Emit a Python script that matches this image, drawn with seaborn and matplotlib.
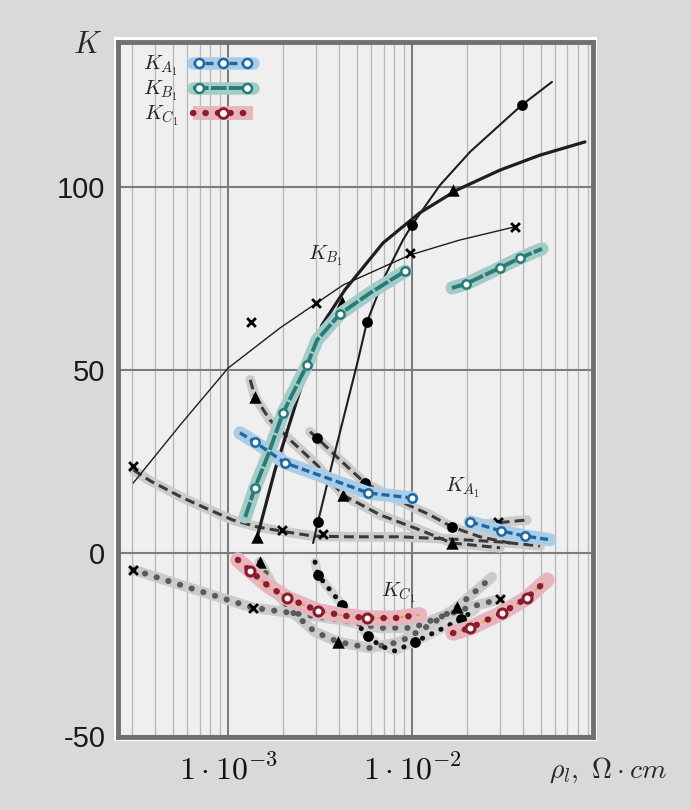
import numpy as np
import pandas as pd
import matplotlib
matplotlib.use("Agg")
import matplotlib.pyplot as plt
import seaborn as sns
from matplotlib.lines import Line2D
from matplotlib.legend_handler import HandlerLine2D, HandlerTuple
from matplotlib.ticker import FixedLocator, FixedFormatter, LogLocator, NullFormatter
from matplotlib.patches import Rectangle

# ---------------------------------------------------------------- data
# resistivity rho_l (Ohm*cm) and coefficient K for each measured sample

# sample "x": K_B (thin solid), K_A (dashed), K_C (dotted)
rho_b_x = [3.05e-4, 5.5e-4, 1.0e-3, 1.92e-3, 4.22e-3, 9.75e-3, 1.82e-2, 3.63e-2]
k_b_x = [19.1, 35.0, 50.5, 61.5, 73.2, 81.4, 85.5, 89.1]
rho_b_x_pts = [1.33e-3, 3.0e-3, 9.75e-3, 3.63e-2]
k_b_x_pts = [63.1, 68.3, 82.0, 89.1]

rho_a_x = [3.05e-4, 3.77e-4, 5.69e-4, 7.98e-4, 1.06e-3, 1.44e-3, 2.09e-3,
           2.90e-3, 4.60e-3, 8.60e-3, 1.61e-2, 3.01e-2, 4.97e-2]
k_a_x = [22.7, 19.7, 15.0, 11.7, 9.0, 7.1, 5.7, 4.6, 4.4, 4.4, 3.8, 3.0, 1.9]
rho_a_x_pts = [3.05e-4, 1.96e-3, 3.28e-3]
k_a_x_pts = [23.8, 6.3, 5.2]
rho_a_x2 = [2.49e-2, 4.22e-2]
k_a_x2 = [7.9, 9.0]
rho_a_x2_pts = [2.93e-2]
k_a_x2_pts = [8.5]

rho_c_x = [3.05e-4, 6.22e-4, 1.37e-3, 2.46e-3, 4.06e-3, 6.70e-3, 1.01e-2,
           1.42e-2, 2.07e-2, 3.01e-2]
k_c_x = [-4.6, -9.6, -15.0, -16.7, -18.3, -20.5, -20.5, -17.5, -14.8, -12.6]
rho_c_x_pts = [3.05e-4, 1.37e-3, 3.01e-2]
k_c_x_pts = [-4.6, -15.0, -12.6]

# sample "triangle"
rho_b_t = [1.44e-3, 1.80e-3, 2.37e-3, 2.79e-3, 3.24e-3, 4.32e-3, 6.96e-3,
           1.10e-2, 1.76e-2, 3.01e-2, 4.97e-2, 8.71e-2]
k_b_t = [4.4, 22.7, 41.8, 52.7, 62.3, 71.9, 84.7, 92.9, 99.2, 104.6, 108.7, 112.3]
rho_b_t_pts = [1.44e-3, 4.17e-3, 1.67e-2]
k_b_t_pts = [4.4, 68.6, 99.2]

rho_a_t = [1.32e-3, 1.40e-3, 1.69e-3, 2.17e-3, 3.05e-3, 4.22e-3, 6.70e-3,
           1.10e-2, 1.65e-2, 3.01e-2]
k_a_t = [47.3, 42.6, 36.3, 30.9, 24.0, 15.8, 10.4, 6.3, 2.7, 1.4]
rho_a_t_pts = [1.40e-3, 4.22e-3, 1.65e-2]
k_a_t_pts = [42.6, 15.8, 2.7]

rho_c_t = [1.49e-3, 1.73e-3, 2.17e-3, 2.97e-3, 3.96e-3, 5.91e-3, 8.60e-3,
           1.25e-2, 1.76e-2, 2.72e-2]
k_c_t = [-2.5, -8.7, -15.6, -21.6, -24.3, -26.0, -24.3, -19.7, -14.8, -6.6]
rho_c_t_pts = [1.49e-3, 3.96e-3, 1.76e-2]
k_c_t_pts = [-2.5, -24.3, -14.8]

# sample "circle"
rho_b_o = [2.90e-3, 3.08e-3, 3.72e-3, 4.49e-3, 5.09e-3, 5.69e-3, 7.13e-3,
           8.93e-3, 1.0e-2, 1.42e-2, 2.07e-2, 3.01e-2, 3.96e-2, 5.77e-2]
k_b_o = [2.7, 8.5, 25.4, 41.8, 52.7, 63.1, 75.7, 85.5, 89.6, 100.5, 109.6,
         117.0, 122.4, 128.7]
rho_b_o_pts = [3.08e-3, 5.69e-3, 1.0e-2, 3.96e-2]
k_b_o_pts = [8.5, 63.1, 89.6, 122.4]

rho_a_o = [2.79e-3, 3.05e-3, 4.06e-3, 5.55e-3, 8.28e-3, 1.25e-2, 1.65e-2,
           2.34e-2, 3.41e-2]
k_a_o = [33.1, 31.4, 25.4, 19.1, 14.5, 10.4, 7.1, 4.4, 2.7]
rho_a_o_pts = [3.05e-3, 5.55e-3, 1.65e-2]
k_a_o_pts = [31.4, 19.1, 7.1]

rho_c_o = [2.97e-3, 3.08e-3, 3.58e-3, 4.17e-3, 4.90e-3, 5.77e-3, 6.70e-3,
           8.09e-3, 1.04e-2, 1.42e-2, 1.85e-2, 2.20e-2]
k_c_o = [-2.5, -6.0, -10.1, -14.2, -18.8, -22.7, -25.4, -26.8, -24.3, -21.0,
         -18.0, -15.6]
rho_c_o_pts = [3.08e-3, 4.17e-3, 5.77e-3, 1.04e-2, 1.85e-2]
k_c_o_pts = [-6.0, -14.2, -22.7, -24.3, -18.0]

# highlighted series K_A1, K_B1, K_C1 (two branches each)
rho_A1 = [[1.16e-3, 1.40e-3, 2.04e-3, 3.58e-3, 5.77e-3, 1.0e-2],
          [2.07e-2, 3.05e-2, 4.11e-2, 5.62e-2]]
k_A1 = [[32.8, 30.3, 24.6, 20.2, 16.4, 15.0],
        [8.5, 6.0, 4.6, 3.6]]
rho_A1_pts = [1.40e-3, 2.04e-3, 5.77e-3, 1.0e-2, 2.07e-2, 3.05e-2, 4.11e-2]
k_A1_pts = [30.3, 24.6, 16.4, 15.0, 8.5, 6.0, 4.6]

rho_B1 = [[1.24e-3, 1.40e-3, 1.65e-3, 1.99e-3, 2.69e-3, 3.05e-3, 4.06e-3, 5.91e-3, 9.16e-3],
          [1.65e-2, 1.96e-2, 3.01e-2, 3.87e-2, 5.09e-2]]
k_B1 = [[9.8, 17.8, 26.8, 38.3, 51.4, 58.2, 65.3, 71.0, 77.0],
        [72.4, 73.5, 77.9, 80.6, 83.1]]
rho_B1_pts = [1.40e-3, 1.99e-3, 2.69e-3, 4.06e-3, 9.16e-3, 1.96e-2, 3.01e-2, 3.87e-2]
k_B1_pts = [17.8, 38.3, 51.4, 65.3, 77.0, 73.5, 77.9, 80.6]

rho_C1 = [[1.13e-3, 1.32e-3, 1.65e-3, 2.09e-3, 3.08e-3, 4.32e-3, 5.69e-3, 8.09e-3, 1.10e-2],
          [1.67e-2, 2.07e-2, 3.08e-2, 4.22e-2, 5.42e-2]]
k_C1 = [[-1.9, -4.9, -9.0, -12.3, -15.8, -17.2, -17.8, -17.8, -16.9],
        [-21.9, -20.5, -16.4, -12.3, -7.4]]
rho_C1_pts = [1.32e-3, 2.09e-3, 3.08e-3, 5.69e-3, 2.07e-2, 3.08e-2, 4.22e-2]
k_C1_pts = [-4.9, -12.3, -15.8, -17.8, -20.5, -16.4, -12.3]

x_ticks = [1e-3, 1e-2]
x_tick_labels = [r"$1\cdot10^{-3}$", r"$1\cdot10^{-2}$"]
y_ticks = [-50, 0, 50, 100]
y_tick_labels = ["-50", "0", "50", "100"]

# ---------------------------------------------------------------- style
sns.set_theme(style="white")
plt.rcParams.update({
    "font.family": ["Liberation Sans", "DejaVu Sans"],
    "mathtext.fontset": "cm",
    "axes.unicode_minus": False,
})

BG = "#d9d9d9"
PAPER = "#efefef"
GRID = "#7c7c7c"
HALO = "#cbcbcb"
BLUE, BLUE_H = "#1c68a6", "#a9cce7"
TEAL, TEAL_H = "#2a7b78", "#a3ccc9"
RED, RED_H, ORANGE = "#8c1c2c", "#e7b5bd", "#e4a43c"

fig = plt.figure(figsize=(6.91, 8.10), dpi=100, facecolor=BG)
fig.patches.append(Rectangle((114 / 691, 1 - 741 / 810), 483 / 691, 704 / 810,
                             transform=fig.transFigure, facecolor="white",
                             edgecolor="none", zorder=-5))
ax = fig.add_axes([118 / 691, 1 - 737 / 810, 475 / 691, 695 / 810])
ax.set_facecolor(PAPER)
ax.set_xscale("log")
ax.set_xlim(2.52e-4, 9.64e-2)
ax.set_ylim(-50.3, 139.6)


def frame(x, y):
    return pd.DataFrame({"rho": x, "K": y})


def line(x, y, color, lw, ls="-", z=3, cap="butt", halo=None, halo_lw=0):
    df = frame(x, y)
    if halo is not None:
        sns.lineplot(data=df, x="rho", y="K", ax=ax, sort=False, estimator=None,
                     color=halo, lw=halo_lw, solid_capstyle="round",
                     solid_joinstyle="round", zorder=z - 0.2)
    sns.lineplot(data=df, x="rho", y="K", ax=ax, sort=False, estimator=None,
                 color=color, lw=lw, linestyle=ls, dash_capstyle=cap,
                 solid_joinstyle="round", zorder=z)


def points(x, y, marker, size, face, edge, lw=0, z=6):
    sns.scatterplot(data=frame(x, y), x="rho", y="K", ax=ax, marker=marker, s=size,
                    color=face, edgecolor=edge, linewidth=lw, zorder=z, legend=False)


DASH = (0, (3.2, 1.7))
DOT = (0, (0.05, 2.0))

# K_A curves: black dashes on a grey band
line(rho_a_x, k_a_x, "#3a3a3a", 2.2, DASH, halo=HALO, halo_lw=7)
line(rho_a_x2, k_a_x2, "#3a3a3a", 2.2, DASH, halo=HALO, halo_lw=7)
line(rho_a_t, k_a_t, "#3a3a3a", 2.2, DASH, halo=HALO, halo_lw=7)
line(rho_a_o, k_a_o, "#3a3a3a", 2.2, DASH, halo=HALO, halo_lw=7)

# K_C curves: dotted on a grey band
line(rho_c_x, k_c_x, "#5a5a5a", 4.3, DOT, cap="round", halo=HALO, halo_lw=7.5)
line(rho_c_t, k_c_t, "#5a5a5a", 4.3, DOT, cap="round", halo=HALO, halo_lw=7.5)
line(rho_c_o, k_c_o, "#111111", 3.6, (0, (0.05, 2.0)), cap="round", halo="#d2d2d2", halo_lw=6.5)

# K_B curves: solid black lines
line(rho_b_x, k_b_x, "#1e1e1e", 1.0, z=4)
line(rho_b_t, k_b_t, "#1e1e1e", 2.3, z=4)
line(rho_b_o, k_b_o, "#1e1e1e", 1.5, z=4)

# sample markers
for xs, ys in [(rho_b_x_pts, k_b_x_pts), (rho_a_x_pts, k_a_x_pts),
               (rho_a_x2_pts, k_a_x2_pts), (rho_c_x_pts, k_c_x_pts)]:
    points(xs, ys, "x", 40, "black", "black", lw=2.0)
for xs, ys in [(rho_b_t_pts, k_b_t_pts), (rho_a_t_pts, k_a_t_pts), (rho_c_t_pts, k_c_t_pts)]:
    points(xs, ys, "^", 80, "black", "black")
for xs, ys in [(rho_b_o_pts, k_b_o_pts), (rho_a_o_pts, k_a_o_pts), (rho_c_o_pts, k_c_o_pts)]:
    points(xs, ys, "o", 60, "black", "black")

# highlighted series
for xs, ys in zip(rho_A1, k_A1):
    line(xs, ys, BLUE, 2.4, (0, (2.4, 1.2)), z=7, halo=BLUE_H, halo_lw=9.5)
points(rho_A1_pts, k_A1_pts, "o", 36, "white", BLUE, lw=1.8, z=8)

for xs, ys in zip(rho_B1, k_B1):
    line(xs, ys, TEAL, 2.8, (0, (4.0, 0.6)), z=7, halo=TEAL_H, halo_lw=9.5)
points(rho_B1_pts, k_B1_pts, "o", 36, "white", TEAL, lw=1.8, z=8)

for xs, ys in zip(rho_C1, k_C1):
    line(xs, ys, ORANGE, 1.4, (0, (2.0, 2.0)), z=7, halo=RED_H, halo_lw=11)
    line(xs, ys, RED, 4.6, (0, (0.05, 1.9)), cap="round", z=7.5)
points(rho_C1_pts, k_C1_pts, "o", 42, "white", RED, lw=2.2, z=8)

# in-plot labels
ax.text(3.37e-3, 81.1, r"$K_{B_1}$", fontsize=15, ha="center", va="center", zorder=9)
ax.text(1.87e-2, 17.8, r"$K_{A_1}$", fontsize=15, ha="center", va="center", zorder=9)
ax.text(8.4e-3, -11.0, r"$K_{C_1}$", fontsize=15, ha="center", va="center", zorder=9)

# grid and axes
ax.xaxis.set_major_locator(FixedLocator(x_ticks))
ax.xaxis.set_major_formatter(FixedFormatter(x_tick_labels))
ax.xaxis.set_minor_locator(LogLocator(base=10, subs=np.arange(2, 10)))
ax.xaxis.set_minor_formatter(NullFormatter())
ax.yaxis.set_major_locator(FixedLocator(y_ticks))
ax.yaxis.set_major_formatter(FixedFormatter(y_tick_labels))
ax.grid(True, which="major", color=GRID, lw=1.5, zorder=0)
ax.grid(True, which="minor", axis="x", color="#a8a8a8", lw=0.9, alpha=0.8, zorder=0)
ax.set_axisbelow(True)
ax.tick_params(axis="both", which="both", length=0)
ax.tick_params(axis="x", pad=13, labelsize=23, labelcolor="#111111")
ax.tick_params(axis="y", pad=9, labelsize=21, labelcolor="#1a1a1a")
for sp in ax.spines.values():
    sp.set_visible(True)
    sp.set_color("#707070")
    sp.set_linewidth(3.5)
ax.set_xlabel("")
ax.set_ylabel("")

fig.text(88 / 691, 1 - 45 / 810, r"$K$", fontsize=22, ha="center", va="center")
fig.text(608 / 691, 1 - 770 / 810, r"$\rho_l,\ \Omega\cdot cm$", fontsize=20,
         ha="center", va="center")

# legend with banded handles
def proxy(**kw):
    return Line2D([], [], **kw)

mA = proxy(ls="none", marker="o", mfc="white", mec=BLUE, mew=1.8, ms=6.5)
mB = proxy(ls="none", marker="o", mfc="white", mec=TEAL, mew=1.8, ms=6.5)
mC = proxy(ls="none", marker="o", mfc="white", mec=RED, mew=2.0, ms=7)
hA = (proxy(color=BLUE_H, lw=9, solid_capstyle="round"),
      proxy(color=BLUE, lw=2.4, ls=(0, (2.4, 1.2))), mA)
hB = (proxy(color=TEAL_H, lw=9, solid_capstyle="round"),
      proxy(color=TEAL, lw=2.8, ls=(0, (4.0, 0.6))), mB)
hC = (proxy(color=RED_H, lw=10, solid_capstyle="butt"),
      proxy(color=RED, lw=4.6, ls=(0, (0.05, 1.9)), dash_capstyle="round"), mC)
leg = ax.legend([hA, hB, hC], [r"$K_{A_1}$", r"$K_{B_1}$", r"$K_{C_1}$"],
                handler_map={tuple: HandlerTuple(ndivide=1, pad=0),
                             mA: HandlerLine2D(numpoints=3),
                             mB: HandlerLine2D(numpoints=2),
                             mC: HandlerLine2D(numpoints=1)},
                loc="upper left", bbox_to_anchor=(0.035, 0.995), frameon=False,
                markerfirst=False, fontsize=15, handlelength=2.9,
                handletextpad=0.7, labelspacing=0.05, borderaxespad=0)
leg.set_zorder(10)

fig.savefig("out.png", dpi=100, facecolor=BG)
